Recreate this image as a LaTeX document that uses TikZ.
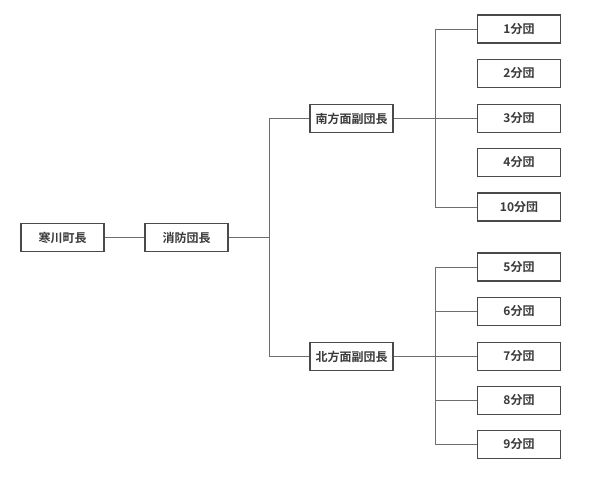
\documentclass[tikz,border=0pt]{standalone}
\usepackage{fontspec}
\newfontfamily\cjk{Noto Sans CJK JP}[BoldFont={Noto Sans CJK JP Bold}]
\definecolor{boxline}{HTML}{4A4A4A}
\definecolor{conn}{HTML}{6E6E6E}
\definecolor{txt}{HTML}{3A3A3A}
\begin{document}
\begin{tikzpicture}[x=1pt,y=-1pt,
  orgbox/.style={draw=boxline, line width=1.4pt, fill=white, minimum width=83pt, minimum height=28pt, inner sep=0pt, font=\cjk\bfseries\fontsize{12}{12}\selectfont, text=txt},
  link/.style={draw=conn, line width=1pt}]
\useasboundingbox[fill=white] (0,0) rectangle (600,483);
\node[orgbox] (mayor) at (62.5,237.5) {寒川町長};
\node[orgbox] (chief) at (186.5,237.5) {消防団長};
\node[orgbox] (south) at (351.5,118.5) {南方面副団長};
\node[orgbox] (north) at (351.5,356.5) {北方面副団長};
\node[orgbox] (b1) at (519,29) {1分団};
\node[orgbox] (b2) at (519,73.5) {2分団};
\node[orgbox] (b3) at (519,118.5) {3分団};
\node[orgbox] (b4) at (519,162.5) {4分団};
\node[orgbox] (b10) at (519,207) {10分団};
\node[orgbox] (b5) at (519,267) {5分団};
\node[orgbox] (b6) at (519,311.5) {6分団};
\node[orgbox] (b7) at (519,356.5) {7分団};
\node[orgbox] (b8) at (519,400.5) {8分団};
\node[orgbox] (b9) at (519,444.5) {9分団};
\coordinate (trunk) at (269.5,237.5);
\coordinate (sx) at (435.5,118.5);
\coordinate (nx) at (435.5,356.5);
\draw[link] (mayor) -- (chief);
\draw[link] (chief) -- (trunk);
\draw[link] (south.west) -| (trunk) |- (north.west);
\draw[link] (south) -- (b3);
\draw[link] (north) -- (b7);
\draw[link] (b1.west) -| (sx) |- (b10.west);
\draw[link] (b5.west) -| (nx) |- (b9.west);
\draw[link] (b6.west) -| (nx);
\draw[link] (b8.west) -| (nx);
\end{tikzpicture}
\end{document}
